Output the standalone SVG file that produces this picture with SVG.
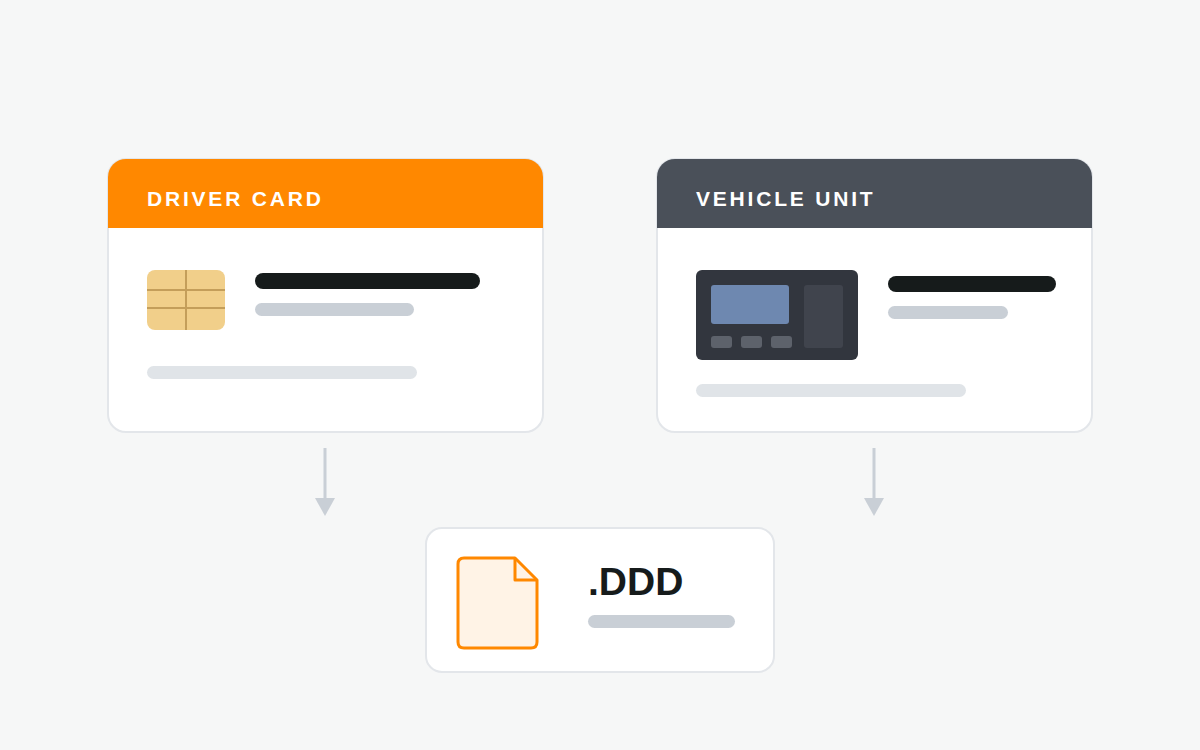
<svg xmlns="http://www.w3.org/2000/svg" width="1200" height="750" viewBox="0 0 1200 750">
<style>
.card{fill:#fff;stroke:#e3e6ea;stroke-width:2}
.hdr{font-family:'Liberation Sans',Arial,sans-serif;font-weight:bold;font-size:21px;letter-spacing:2.8px;fill:#fff}
.dark{fill:#161b1b}.mid{fill:#c9cfd6}.light{fill:#e0e4e8}
.conn{stroke:#c9cfd6;stroke-width:3}
</style>
<defs>
<clipPath id="c1"><rect x="108" y="159" width="435" height="273" rx="18"/></clipPath>
<clipPath id="c2"><rect x="657" y="159" width="435" height="273" rx="18"/></clipPath>
</defs>
<rect width="1200" height="750" fill="#f6f7f7"/>
<g id="driver-card">
<rect class="card" x="108" y="159" width="435" height="273" rx="18"/>
<rect x="108" y="159" width="435" height="69" fill="#ff8800" clip-path="url(#c1)"/>
<text class="hdr" x="147" y="206">DRIVER CARD</text>
<rect x="147" y="270" width="78" height="60" rx="8" fill="#f1cf8a"/>
<path d="M186 270V330M147 290H225M147 308H225" stroke="#c49e5a" stroke-width="2"/>
<rect class="dark" x="255" y="273" width="225" height="16" rx="8"/>
<rect class="mid" x="255" y="303" width="159" height="13" rx="6.5"/>
<rect class="light" x="147" y="366" width="270" height="13" rx="6.5"/>
</g>
<g id="vehicle-unit">
<rect class="card" x="657" y="159" width="435" height="273" rx="18"/>
<rect x="657" y="159" width="435" height="69" fill="#4a5059" clip-path="url(#c2)"/>
<text class="hdr" x="696" y="206">VEHICLE UNIT</text>
<rect x="696" y="270" width="162" height="90" rx="6" fill="#32363e"/>
<rect x="711" y="285" width="78" height="39" rx="3" fill="#6e88b0"/>
<rect x="804" y="285" width="39" height="63" rx="3" fill="#40444d"/>
<rect x="711" y="336" width="21" height="12" rx="3" fill="#5d626b"/>
<rect x="741" y="336" width="21" height="12" rx="3" fill="#5d626b"/>
<rect x="771" y="336" width="21" height="12" rx="3" fill="#5d626b"/>
<rect class="dark" x="888" y="276" width="168" height="16" rx="8"/>
<rect class="mid" x="888" y="306" width="120" height="13" rx="6.5"/>
<rect class="light" x="696" y="384" width="270" height="13" rx="6.5"/>
</g>
<g id="connectors">
<line class="conn" x1="325" y1="448" x2="325" y2="500"/>
<path d="M315 498H335L325 516Z" fill="#c9cfd6"/>
<line class="conn" x1="874" y1="448" x2="874" y2="500"/>
<path d="M864 498H884L874 516Z" fill="#c9cfd6"/>
</g>
<g id="ddd-file">
<rect class="card" x="426" y="528" width="348" height="144" rx="16"/>
<path d="M464 558H515L537 580V642Q537 648 531 648H464Q458 648 458 642V564Q458 558 464 558Z" fill="#fff3e6" stroke="#ff8800" stroke-width="3" stroke-linejoin="round"/>
<path d="M515 558V580H537" fill="none" stroke="#ff8800" stroke-width="3" stroke-linejoin="round"/>
<text x="588" y="595" font-family="'Liberation Sans',Arial,sans-serif" font-weight="bold" font-size="39" fill="#161b1b">.DDD</text>
<rect class="mid" x="588" y="615" width="147" height="13" rx="6.5"/>
</g>
</svg>
